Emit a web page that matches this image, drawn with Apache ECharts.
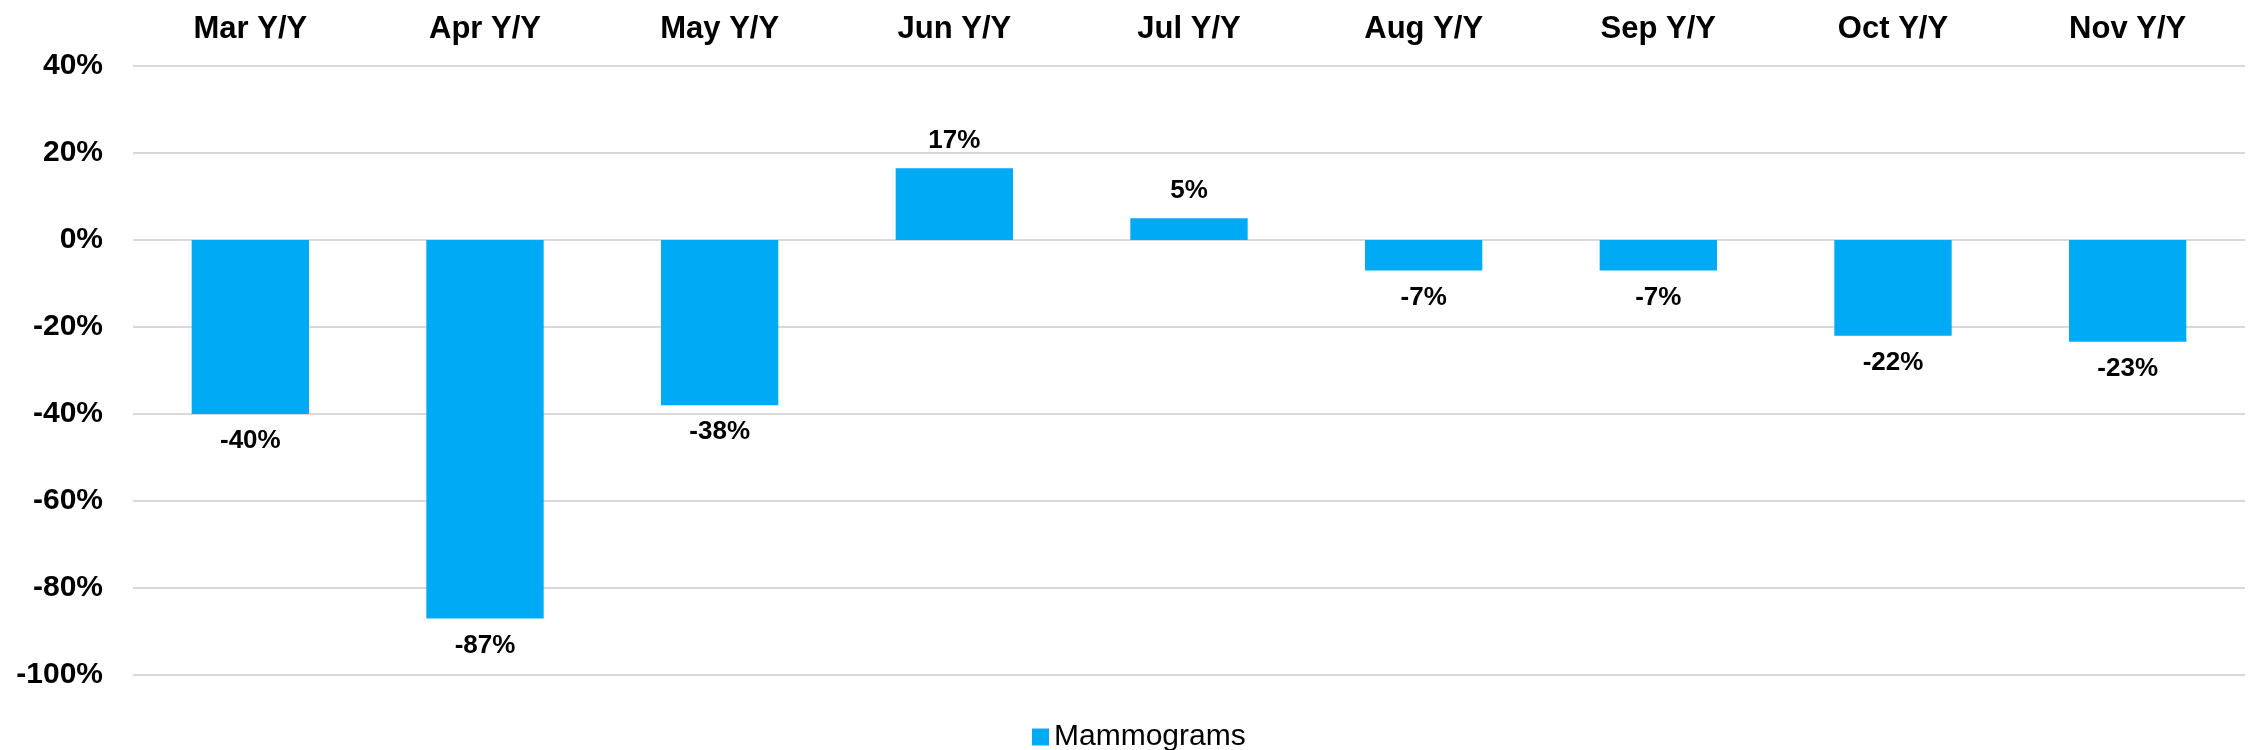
<!DOCTYPE html>
<html>
<head>
<meta charset="utf-8">
<script src="https://cdn.jsdelivr.net/npm/echarts@6/dist/echarts.min.js"></script>
<style>
  html, body { margin: 0; padding: 0; background: #ffffff; }
  #chart { width: 2249px; height: 750px; }
</style>
</head>
<body>
<div id="chart"></div>
<script>
// chart data
var categories = ['Mar Y/Y', 'Apr Y/Y', 'May Y/Y', 'Jun Y/Y', 'Jul Y/Y', 'Aug Y/Y', 'Sep Y/Y', 'Oct Y/Y', 'Nov Y/Y']
var seriesName = 'Mammograms'
var mammograms = [-40, -87, -38, 16.5, 5, -7, -7, -22, -23.4]
var yTicks = { min: -100, max: 40, step: 20 }

var fontFamily = "'Liberation Sans', Arial, sans-serif"
var barColor = '#00AAF4'

var chart = echarts.init(document.getElementById('chart'))

// labels sit above positive bars and below negative ones
var barData = mammograms.map(function (v) {
  return {
    value: v,
    label: { position: v < 0 ? 'bottom' : 'top' }
  }
})

var option = {
  animation: false,
  backgroundColor: '#ffffff',
  legend: {
    data: [seriesName],
    left: 1027,
    top: 717,
    icon: 'rect',
    itemWidth: 17,
    itemHeight: 17,
    itemGap: 7,
    textStyle: {
      fontFamily: fontFamily,
      fontSize: 30,
      color: '#000000'
    }
  },
  grid: {
    left: 133,
    right: 4,
    top: 66,
    bottom: 75,
    containLabel: false
  },
  xAxis: {
    type: 'category',
    position: 'top',
    data: categories,
    axisLine: { show: false },
    axisTick: { show: false },
    axisLabel: {
      margin: 21,
      interval: 0,
      fontFamily: fontFamily,
      fontSize: 31,
      fontWeight: 'bold',
      color: '#000000'
    },
    splitLine: { show: false }
  },
  yAxis: {
    type: 'value',
    min: yTicks.min,
    max: yTicks.max,
    interval: yTicks.step,
    axisLine: { show: false },
    axisTick: { show: false },
    axisLabel: {
      margin: 30,
      formatter: '{value}%',
      fontFamily: fontFamily,
      fontSize: 30,
      fontWeight: 'bold',
      color: '#000000'
    },
    splitLine: {
      show: true,
      lineStyle: { color: '#d9d9d9', width: 2 }
    }
  },
  series: [{
    name: seriesName,
    type: 'bar',
    barWidth: '50%',
    itemStyle: { color: barColor },
    label: {
      show: true,
      distance: 14,
      fontFamily: fontFamily,
      fontSize: 26,
      fontWeight: 'bold',
      color: '#000000',
      formatter: function (p) {
        return Math.round(p.value) + '%'
      }
    },
    data: barData
  }]
}

chart.setOption(option)
</script>
</body>
</html>
